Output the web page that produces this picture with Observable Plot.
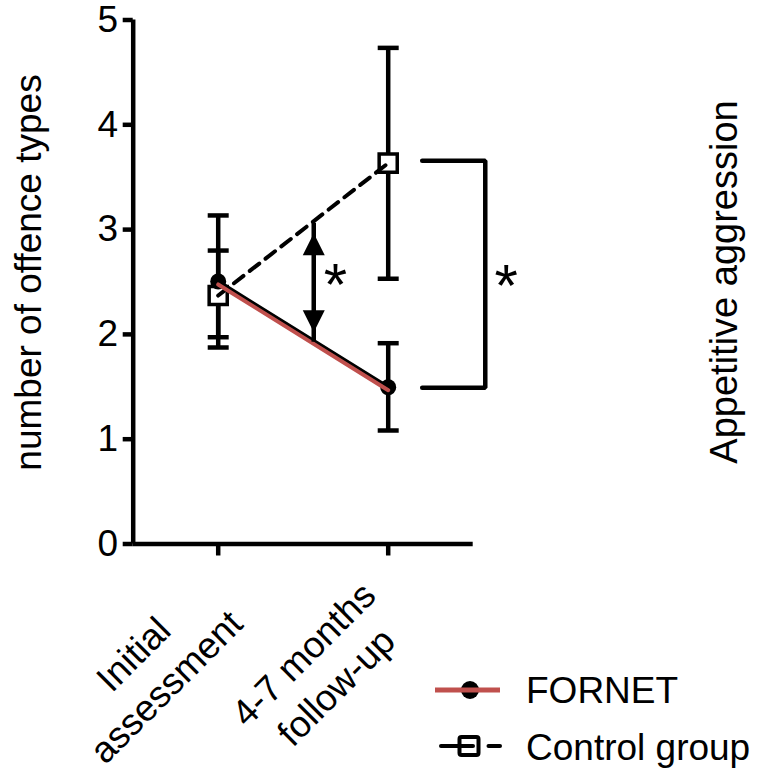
<!DOCTYPE html>
<html><head><meta charset="utf-8">
<script src="https://cdn.jsdelivr.net/npm/d3@7"></script>
<script src="https://cdn.jsdelivr.net/npm/@observablehq/plot@0.6"></script>
<style>
body{margin:0;background:#fff;}
#wrap{position:relative;width:765px;height:772px;font-family:"Liberation Sans",Arial,sans-serif;}
#legend{position:absolute;left:430px;top:660px;}
</style></head><body><div id="wrap"></div>
<script>
// ---- data ----
const categories = ["Initial\nassessment", "4-7 months\nfollow-up"];
const catPos = [1, 2];
const fornetMean = [2.505, 1.496];
const fornetLow = [1.875, 1.083];
const fornetHigh = [3.135, 1.916];
const controlMean = [2.371, 3.634];
const controlLow = [1.973, 2.531];
const controlHigh = [2.80, 4.734];
const yTicks = [0, 1, 2, 3, 4, 5];
const yLabel = "number of offence types";
const rightLabel = "Appetitive aggression";
const seriesNames = ["FORNET", "Control group"];
// significance annotations (data coordinates)
const arrowX = [1.562];
const arrowEnds = [2.021, 2.965];
const bracketX = [2.2, 2.571];
const bracketY = [3.656, 1.49];
const starX = [1.69, 2.694];
const starY = [2.546, 2.543];

const red = "#c0504d";
const FS = 37;
const SW = 4.5;

const fornet = catPos.map((x, i) => ({x, y: fornetMean[i], lo: fornetLow[i], hi: fornetHigh[i]}));
const control = catPos.map((x, i) => ({x, y: controlMean[i], lo: controlLow[i], hi: controlHigh[i]}));
const bars = [...fornet, ...control];
const caps = bars.flatMap(d => [{x: d.x, y: d.lo}, {x: d.x, y: d.hi}]);
const catTable = categories.map((c, i) => ({x: catPos[i], label: c}));
const bracket = [
  {x: bracketX[0], y: bracketY[0]}, {x: bracketX[1], y: bracketY[0]},
  {x: bracketX[1], y: bracketY[1]}, {x: bracketX[0], y: bracketY[1]}
];
const stars = starX.map((x, i) => ({x, y: starY[i]}));

const capSymbol = {draw(ctx, size) { const r = Math.sqrt(size / Math.PI); ctx.moveTo(-r, 0); ctx.lineTo(r, 0); }};
const headSymbol = {draw(ctx, size) { const r = Math.sqrt(size / Math.PI); ctx.moveTo(0, 0); ctx.lineTo(-r, 2 * r); ctx.lineTo(r, 2 * r); ctx.closePath(); }};

const plot = Plot.plot({
  width: 765, height: 772,
  marginLeft: 132.7, marginRight: 292.3, marginTop: 19.5, marginBottom: 228.5,
  style: {fontFamily: '"Liberation Sans", Arial, sans-serif', fontSize: FS + "px", color: "black", background: "white", overflow: "visible"},
  x: {type: "linear", domain: [0.5, 2.5]},
  y: {type: "linear", domain: [0, 5]},
  marks: [
    Plot.axisY({ticks: yTicks, tickSize: 10, tickPadding: 5, strokeWidth: SW, fontSize: FS, label: null, tickFormat: d => String(d)}),
    Plot.axisX({ticks: catPos, tickSize: 12, strokeWidth: SW, tickFormat: () => "", label: null}),
    Plot.ruleX([0.5], {y1: 0, y2: 5, strokeWidth: SW}),
    Plot.ruleY([0], {x1: 0.5, x2: 2.5, strokeWidth: SW}),
    Plot.text(catTable, {x: "x", text: "label", frameAnchor: "bottom", dx: -70, dy: 125, rotate: -45, textAnchor: "middle", lineAnchor: "middle", lineHeight: 1.25, fontSize: FS}),
    Plot.text([yLabel], {text: d => d, frameAnchor: "left", dx: -104, dy: -9.5, rotate: -90, textAnchor: "middle", lineAnchor: "middle", fontSize: FS}),
    Plot.text([rightLabel], {text: d => d, frameAnchor: "right", dx: 252, rotate: -90, textAnchor: "middle", lineAnchor: "middle", fontSize: 38}),
    // error bars
    Plot.ruleX(bars, {x: "x", y1: "lo", y2: "hi", strokeWidth: SW}),
    Plot.dot(caps, {x: "x", y: "y", symbol: capSymbol, r: 10.5, stroke: "black", strokeWidth: SW, fill: "none"}),
    // markers
    Plot.dot(control, {x: "x", y: "y", symbol: "square", r: 10.2, fill: "white", stroke: "black", strokeWidth: 3.5}),
    Plot.dot(fornet, {x: "x", y: "y", r: 8, fill: "black"}),
    // lines
    Plot.line(control, {x: "x", y: "y", stroke: "black", strokeWidth: 4, strokeDasharray: "12,8"}),
    Plot.line(fornet, {x: "x", y: "y", stroke: "black", strokeWidth: 4}),
    Plot.line(fornet, {x: "x", y: "y", stroke: red, strokeWidth: 4, dy: 3}),
    // double arrow
    Plot.ruleX(arrowX, {x: d => d, y1: arrowEnds[0], y2: arrowEnds[1], strokeWidth: SW, insetTop: 10, insetBottom: 10}),
    Plot.dot([arrowEnds[1]], {x: arrowX[0], y: d => d, symbol: headSymbol, r: 11, fill: "black"}),
    Plot.dot([arrowEnds[0]], {x: arrowX[0], y: d => d, symbol: headSymbol, r: 11, fill: "black", rotate: 180}),
    // bracket
    Plot.line(bracket, {x: "x", y: "y", stroke: "black", strokeWidth: SW, strokeLinejoin: "miter"}),
    Plot.text(stars, {x: "x", y: "y", text: () => "*", fontSize: 60, lineAnchor: "middle", dy: 9})
  ]
});
document.getElementById("wrap").appendChild(plot);

// ---- legend ----
const lg = d3.select("#wrap").append("svg").attr("id", "legend").attr("width", 335).attr("height", 112)
  .style("font-family", '"Liberation Sans", Arial, sans-serif');
const r1 = lg.append("g").attr("transform", "translate(0,30)");
r1.append("circle").attr("cx", 40).attr("cy", 0).attr("r", 9).attr("fill", "black");
r1.append("line").attr("x1", 5).attr("x2", 70).attr("y1", 0).attr("y2", 0).attr("stroke", red).attr("stroke-width", 5);
r1.append("text").attr("x", 96).attr("y", 13).attr("font-size", FS).text(seriesNames[0]);
const r2 = lg.append("g").attr("transform", "translate(0,86)");
r2.append("line").attr("x1", 11).attr("x2", 43).attr("y1", 0).attr("y2", 0).attr("stroke", "black").attr("stroke-width", 4).attr("stroke-linecap", "round");
r2.append("rect").attr("x", 29.5).attr("y", -9).attr("width", 19).attr("height", 18).attr("rx", 2).attr("fill", "none").attr("stroke", "black").attr("stroke-width", 4);
r2.append("line").attr("x1", 58.5).attr("x2", 70).attr("y1", 0).attr("y2", 0).attr("stroke", "black").attr("stroke-width", 4).attr("stroke-linecap", "round");
r2.append("text").attr("x", 96).attr("y", 14).attr("font-size", FS).text(seriesNames[1]);
</script></body></html>
